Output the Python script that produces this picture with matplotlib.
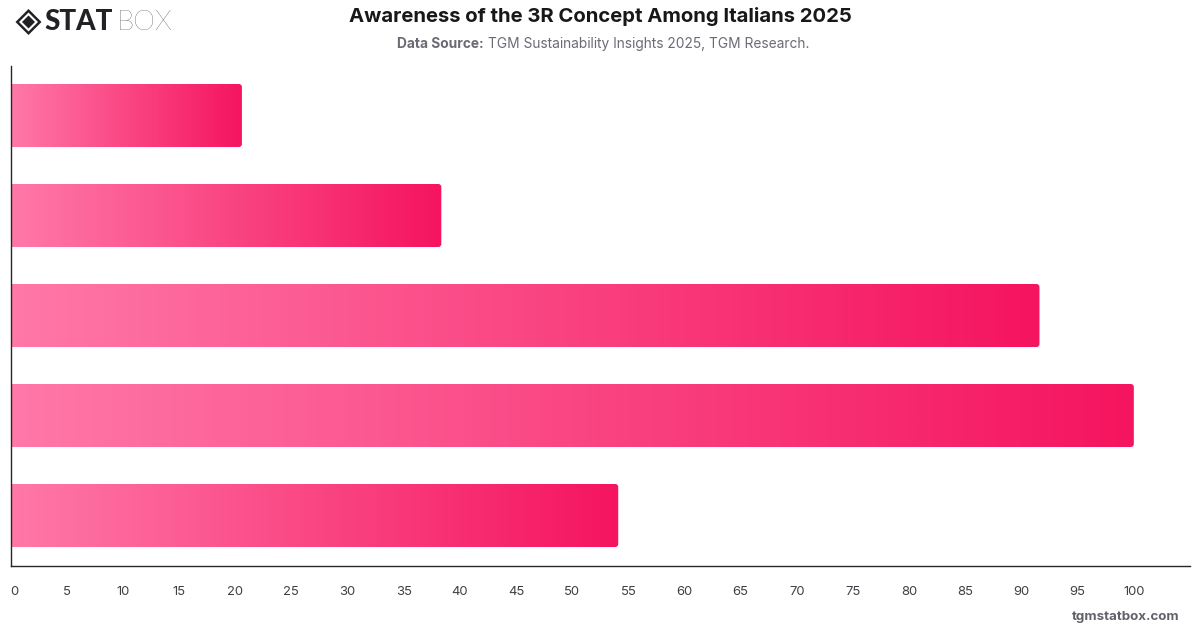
import numpy as np
import matplotlib
matplotlib.use("Agg")
import matplotlib.pyplot as plt
from matplotlib.colors import LinearSegmentedColormap
from matplotlib.patches import Polygon, PathPatch
from matplotlib.path import Path
from matplotlib.transforms import Affine2D

# Awareness shares, top bar first
values = [20.6, 38.35, 91.6, 100.0, 54.1]
x_ticks = list(range(0, 105, 5))
title = "Awareness of the 3R Concept Among Italians 2025"
source_bold = "Data Source:"
source_text = "TGM Sustainability Insights 2025, TGM Research."
site = "tgmstatbox.com"

W, H = 1200, 628
plt.rcParams["font.family"] = ["Inter", "DejaVu Sans"]

fig = plt.figure(figsize=(W / 100, H / 100), dpi=100, facecolor="white")
ax = fig.add_axes([10.5 / W, 1 - 565.5 / H, (1190 - 10.5) / W, 500 / H])
ax.set_xlim(0, 105)
ax.set_ylim(len(values) - 0.5, -0.5)

gradient = LinearSegmentedColormap.from_list("bar_pink", ["#ff78a8", "#f5145f"])
ramp = np.linspace(0, 1, 256).reshape(1, -1)

bars = ax.barh(range(len(values)), values, height=0.63, facecolor="none", edgecolor="none")


def right_rounded(x0, x1, y0, y1, rx, ry):
    # Rectangle with only the two right-hand corners rounded
    codes = [Path.MOVETO, Path.LINETO, Path.CURVE3, Path.CURVE3, Path.LINETO,
             Path.CURVE3, Path.CURVE3, Path.LINETO, Path.CLOSEPOLY]
    verts = [(x0, y0), (x1 - rx, y0), (x1, y0), (x1, y0 + ry), (x1, y1 - ry),
             (x1, y1), (x1 - rx, y1), (x0, y1), (x0, y0)]
    return Path(verts, codes)


# Each bar is a horizontal colour ramp clipped to the bar's outline
for bar in bars:
    x0, x1 = bar.get_x(), bar.get_x() + bar.get_width()
    y0, y1 = bar.get_y(), bar.get_y() + bar.get_height()
    outline = PathPatch(right_rounded(x0, x1, y0, y1, 0.27, 0.03),
                        transform=ax.transData, facecolor="none", edgecolor="none")
    ax.add_patch(outline)
    img = ax.imshow(ramp, cmap=gradient, extent=(x0, x1, y1, y0),
                    aspect="auto", interpolation="bilinear", zorder=1)
    img.set_clip_path(outline)

ax.set_xlim(0, 105)
ax.set_ylim(len(values) - 0.5, -0.5)

for side in ("top", "right"):
    ax.spines[side].set_visible(False)
for side in ("left", "bottom"):
    ax.spines[side].set_color("#26262b")
    ax.spines[side].set_linewidth(1.0)
    ax.spines[side].set_zorder(3)

ax.set_yticks([])
ax.set_xticks(x_ticks)
ax.set_xticklabels([str(t) for t in x_ticks])
ax.tick_params(axis="x", length=0, pad=15, labelsize=9.4, labelcolor="#3f3f46")
ax.get_xticklabels()[0].set_ha("left")

fig.text(600 / W, 1 - 17 / H, title, ha="center", va="center",
         fontsize=14.6, fontweight="bold", color="#18181b")
fig.text(484 / W, 1 - 44 / H, source_bold, ha="right", va="center",
         fontsize=9.9, fontweight="bold", color="#6b6b76")
fig.text(487.5 / W, 1 - 44 / H, source_text, ha="left", va="center",
         fontsize=9.9, color="#6b6b76")
fig.text(1180 / W, 1 - 617 / H, site, ha="right", va="center",
         fontsize=9.6, fontweight="bold", color="#616168")

# Brand mark: nested diamond icon and wordmark
cx, cy = 28.5, 22
def diamond(r, **kw):
    pts = [(cx - r, cy), (cx, cy - r), (cx + r, cy), (cx, cy + r)]
    return Polygon([(x / W, 1 - y / H) for x, y in pts], closed=True,
                   transform=fig.transFigure, **kw)
fig.add_artist(diamond(13, facecolor="#222226", edgecolor="none"))
fig.add_artist(diamond(9.5, facecolor="white", edgecolor="none"))
fig.add_artist(diamond(6.5, facecolor="#222226", edgecolor="none"))
fig.text(44 / W, 1 - 22.5 / H, "STAT", ha="left", va="center", fontsize=20,
         family="Lato", fontweight="black", color="#222226")
fig.text(117 / W, 1 - 22.5 / H, "BOX", ha="left", va="center", fontsize=20,
         family="Lato", fontweight="light", color="#333338")

fig.savefig("out.png", dpi=100)
